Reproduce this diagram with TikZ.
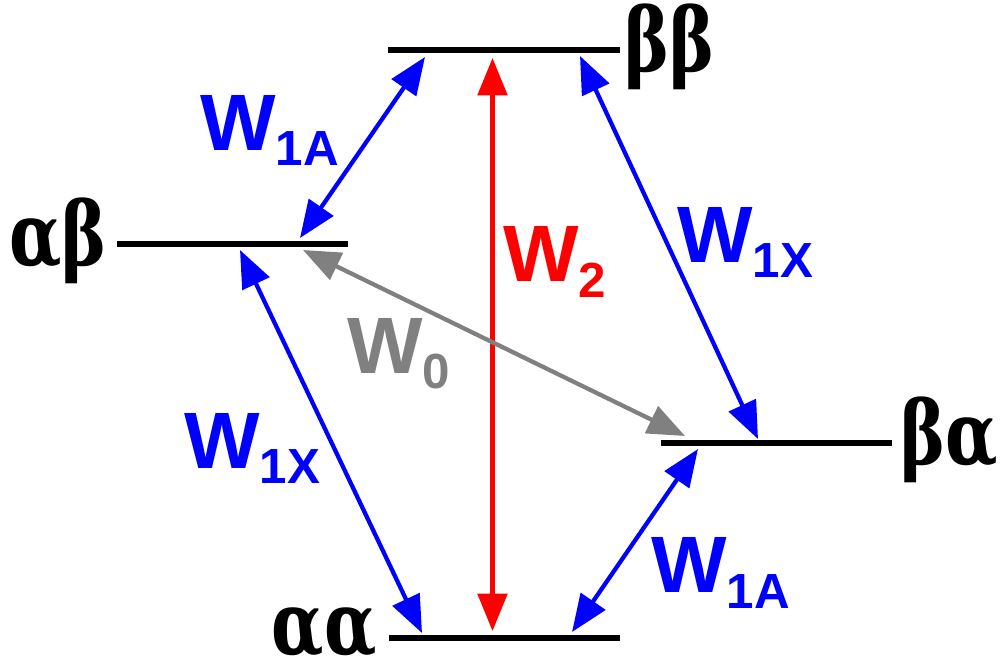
\documentclass[tikz,border=0pt]{standalone}
\usepackage{fontspec}
\setmainfont{Liberation Serif}
\newfontfamily\wfont{Liberation Sans}
\newfontfamily\gfont{DejaVu Serif Condensed}
\usetikzlibrary{arrows.meta}
\definecolor{wgray}{RGB}{128,128,128}
\newcommand{\wsub}[2]{W\raisebox{-#1pt}{\fontsize{37}{37}\selectfont #2}}
\newcommand{\gr}[1]{\scalebox{0.86}[1]{#1}}
\begin{document}
\begin{tikzpicture}[x=0.75pt,y=-0.75pt,
  level/.style={line width=4.5pt},
  trans/.style={line width=3.2pt,{Triangle[length=28pt,width=22pt]}-{Triangle[length=28pt,width=22pt]}},
  glabel/.style={inner sep=0pt, font=\gfont\bfseries\fontsize{66}{66}\selectfont},
  wlab/.style={inner sep=0pt, anchor=base west, font=\wfont\bfseries\fontsize{60}{60}\selectfont}
]
\useasboundingbox (0,0) rectangle (1000,665);
% level end points
\coordinate (bbL) at (388,50);  \coordinate (bbR) at (620,50);
\coordinate (abL) at (117,244); \coordinate (abR) at (348,244);
\coordinate (baL) at (661,443); \coordinate (baR) at (892,443);
\coordinate (aaL) at (389,638); \coordinate (aaR) at (620,638);
\draw[level] (bbL) -- (bbR);
\draw[level] (abL) -- (abR);
\draw[level] (baL) -- (baR);
\draw[level] (aaL) -- (aaR);
% state labels
\node[glabel,anchor=base west] (lbb) at (624,71) {\gr{ββ}};
\node[glabel,anchor=base east] (lab) at (107,265) {\gr{αβ}};
\node[glabel,anchor=base west] (lba) at (900,464) {\gr{βα}};
\node[glabel,anchor=base east] (laa) at (377,654) {\gr{αα}};
% connector end points
\coordinate (a1) at (425,57);  \coordinate (a2) at (300,238);
\coordinate (r1) at (492.5,58); \coordinate (r2) at (492.5,631);
\coordinate (b1) at (580,56);  \coordinate (b2) at (758,439);
\coordinate (g1) at (303,250); \coordinate (g2) at (685,436);
\coordinate (c1) at (240,250); \coordinate (c2) at (422,633);
\coordinate (d1) at (698,449); \coordinate (d2) at (572,632);
\draw[trans,blue] (a1) -- (a2);
\draw[trans,red] (r1) -- (r2);
\draw[trans,blue] (b1) -- (b2);
\draw[trans,wgray] (g1) -- (g2);
\draw[trans,blue] (c1) -- (c2);
\draw[trans,blue] (d1) -- (d2);
% rate labels
\node[wlab,blue] (w1) at (200,150) {\wsub{11.25}{1A}};
\node[wlab,red] (w2) at (503,281) {\wsub{12}{2}};
\node[wlab,blue] (w3) at (677,262) {\wsub{11.25}{1X}};
\node[wlab,wgray] (w4) at (347,373) {\wsub{11.25}{0}};
\node[wlab,blue] (w5) at (184,468) {\wsub{11.25}{1X}};
\node[wlab,blue] (w6) at (651,592) {\wsub{12}{1A}};
\end{tikzpicture}
\end{document}
